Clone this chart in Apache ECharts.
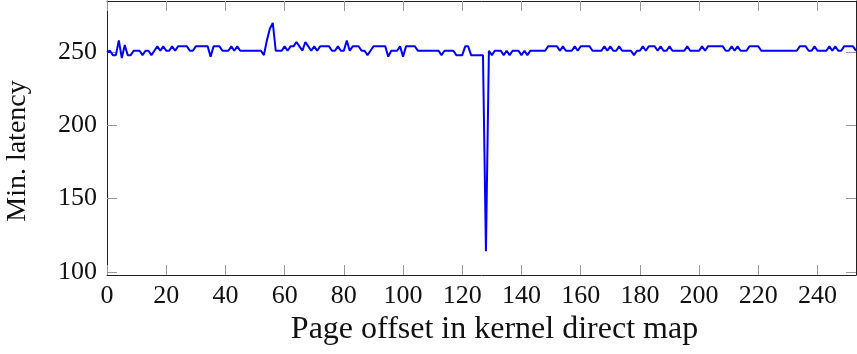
<!DOCTYPE html>
<html>
<head>
<meta charset="utf-8">
<script src="https://cdn.jsdelivr.net/npm/echarts@6/dist/echarts.min.js"></script>
<style>
  html, body { margin: 0; padding: 0; background: #fff; }
  #chart { width: 857px; height: 354px; }
</style>
</head>
<body>
<div id="chart"></div>
<script>
// min latency per page offset (offset = index)
const latency = [
  250, 251, 248, 248, 258, 246, 255, 248, 248, 251,
  251, 251, 248, 251, 251, 248, 251, 254, 251, 254,
  251, 251, 254, 251, 254, 254, 254, 254, 251, 251,
  254, 254, 254, 254, 254, 247, 254, 254, 254, 251,
  251, 251, 254, 251, 254, 251, 251, 251, 251, 251,
  251, 251, 251, 248, 258, 266, 270, 251, 251, 251,
  254, 251, 254, 254, 257, 254, 251, 257, 254, 251,
  254, 251, 254, 254, 254, 254, 251, 251, 254, 251,
  251, 258, 251, 254, 254, 254, 251, 251, 248, 251,
  254, 254, 254, 254, 254, 247, 251, 251, 251, 254,
  247, 254, 254, 254, 254, 251, 251, 251, 251, 251,
  251, 251, 251, 248, 251, 251, 251, 251, 248, 248,
  248, 254, 254, 248, 248, 248, 248, 248, 114, 251,
  248, 251, 251, 251, 248, 251, 248, 251, 251, 251,
  248, 251, 248, 251, 251, 251, 251, 251, 251, 254,
  254, 254, 254, 251, 254, 251, 251, 251, 254, 251,
  254, 254, 254, 254, 251, 251, 251, 251, 254, 251,
  254, 251, 251, 254, 251, 251, 251, 251, 248, 251,
  251, 254, 251, 254, 254, 254, 251, 254, 251, 251,
  254, 251, 251, 251, 251, 251, 254, 251, 251, 251,
  251, 254, 251, 254, 254, 254, 254, 254, 254, 251,
  251, 254, 251, 254, 251, 251, 251, 254, 254, 254,
  254, 251, 251, 251, 251, 251, 251, 251, 251, 251,
  251, 251, 251, 251, 254, 254, 254, 251, 251, 254,
  251, 251, 251, 251, 254, 251, 254, 251, 251, 254,
  254, 254, 254, 251
];
const xTicks = [0, 20, 40, 60, 80, 100, 120, 140, 160, 180, 200, 220, 240];
const yTicks = [100, 150, 200, 250];

const points = latency.map((v, i) => [i, v]);

const font = 'Liberation Serif';
const tickStyle = { show: true, inside: true, length: 10, lineStyle: { color: '#999', width: 1 } };
const lineStyle = { show: true, onZero: false, lineStyle: { color: '#222', width: 1 } };

const chart = echarts.init(document.getElementById('chart'));
chart.setOption({
  animation: false,
  grid: { left: 107, right: 1, top: 1, bottom: 79, outerBoundsMode: 'none', containLabel: false },
  xAxis: [
    {
      type: 'value', min: 0, max: 253,
      name: 'Page offset in kernel direct map',
      nameLocation: 'middle', nameGap: 30,
      nameTextStyle: { fontFamily: font, fontSize: 32, color: '#111', padding: [0, 0, 0, 26] },
      axisLine: lineStyle,
      axisTick: Object.assign({ customValues: xTicks }, tickStyle),
      axisLabel: { customValues: xTicks, fontFamily: font, fontSize: 26, color: '#111', margin: 8 },
      splitLine: { show: false }
    },
    {
      type: 'value', min: 0, max: 253, position: 'top',
      axisLine: lineStyle,
      axisTick: Object.assign({ customValues: xTicks }, tickStyle),
      axisLabel: { show: false },
      splitLine: { show: false }
    }
  ],
  yAxis: [
    {
      type: 'value', min: 97.8, max: 285,
      name: 'Min. latency',
      nameLocation: 'middle', nameGap: 75, nameRotate: 90,
      nameTextStyle: { fontFamily: font, fontSize: 28, color: '#111', padding: [0, 26, 0, 0] },
      axisLine: lineStyle,
      axisTick: Object.assign({ customValues: yTicks }, tickStyle),
      axisLabel: { customValues: yTicks, fontFamily: font, fontSize: 26, color: '#111', margin: 10 },
      splitLine: { show: false }
    },
    {
      type: 'value', min: 97.8, max: 285, position: 'right',
      axisLine: lineStyle,
      axisTick: Object.assign({ customValues: yTicks }, tickStyle),
      axisLabel: { show: false },
      splitLine: { show: false }
    }
  ],
  series: [
    {
      type: 'line',
      data: points,
      showSymbol: false,
      symbol: 'none',
      lineStyle: { color: '#0000ff', width: 2 },
      clip: true
    }
  ]
});
</script>
</body>
</html>
